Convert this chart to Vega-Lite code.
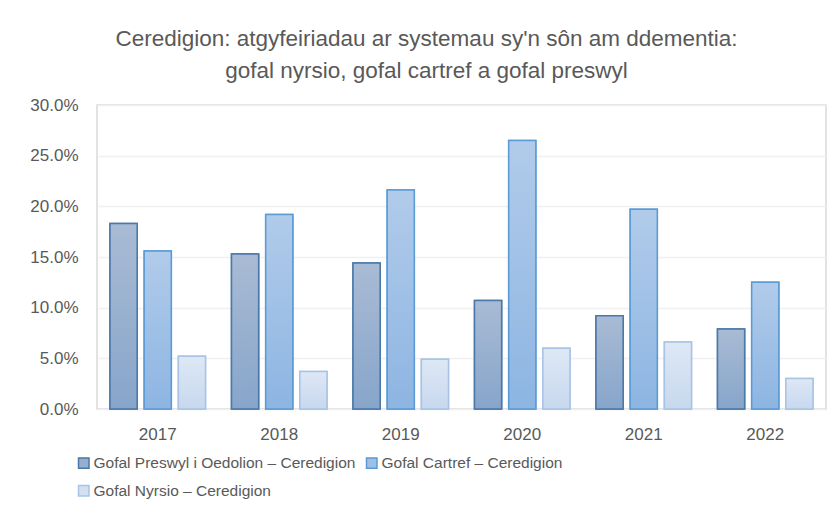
{
  "$schema": "https://vega.github.io/schema/vega-lite/v6.json",
  "autosize": "none",
  "width": 729,
  "height": 304,
  "padding": {"left": 97, "top": 105, "right": 10, "bottom": 99},
  "background": "white",
  "title": {
    "text": ["Ceredigion: atgyfeiriadau ar systemau sy'n sôn am ddementia:", "gofal nyrsio, gofal cartref a gofal preswyl"],
    "font": "Liberation Sans",
    "fontSize": 22.5,
    "fontWeight": "normal",
    "color": "#595959",
    "lineHeight": 32,
    "anchor": "middle",
    "dx": -35,
    "offset": 14
  },
  "data": {
    "values": [
      {"year": "2017", "series": "Gofal Preswyl i Oedolion – Ceredigion", "value": 0.183},
      {"year": "2017", "series": "Gofal Cartref – Ceredigion", "value": 0.156},
      {"year": "2017", "series": "Gofal Nyrsio – Ceredigion", "value": 0.052},
      {"year": "2018", "series": "Gofal Preswyl i Oedolion – Ceredigion", "value": 0.153},
      {"year": "2018", "series": "Gofal Cartref – Ceredigion", "value": 0.192},
      {"year": "2018", "series": "Gofal Nyrsio – Ceredigion", "value": 0.037},
      {"year": "2019", "series": "Gofal Preswyl i Oedolion – Ceredigion", "value": 0.144},
      {"year": "2019", "series": "Gofal Cartref – Ceredigion", "value": 0.216},
      {"year": "2019", "series": "Gofal Nyrsio – Ceredigion", "value": 0.049},
      {"year": "2020", "series": "Gofal Preswyl i Oedolion – Ceredigion", "value": 0.107},
      {"year": "2020", "series": "Gofal Cartref – Ceredigion", "value": 0.265},
      {"year": "2020", "series": "Gofal Nyrsio – Ceredigion", "value": 0.060},
      {"year": "2021", "series": "Gofal Preswyl i Oedolion – Ceredigion", "value": 0.092},
      {"year": "2021", "series": "Gofal Cartref – Ceredigion", "value": 0.197},
      {"year": "2021", "series": "Gofal Nyrsio – Ceredigion", "value": 0.066},
      {"year": "2022", "series": "Gofal Preswyl i Oedolion – Ceredigion", "value": 0.079},
      {"year": "2022", "series": "Gofal Cartref – Ceredigion", "value": 0.125},
      {"year": "2022", "series": "Gofal Nyrsio – Ceredigion", "value": 0.030}
    ]
  },
  "encoding": {
    "x": {
      "field": "year",
      "type": "nominal",
      "scale": {"paddingInner": 0.214, "paddingOuter": 0.107},
      "axis": {
        "title": null,
        "labelAngle": 0,
        "labelFont": "Liberation Sans",
        "labelFontSize": 17,
        "labelColor": "#595959",
        "labelPadding": 17,
        "domain": false,
        "ticks": false
      }
    },
    "xOffset": {
      "field": "series",
      "type": "nominal",
      "scale": {
        "domain": ["Gofal Preswyl i Oedolion – Ceredigion", "Gofal Cartref – Ceredigion", "Gofal Nyrsio – Ceredigion"],
        "paddingInner": 0.206,
        "paddingOuter": 0
      }
    },
    "y": {
      "field": "value",
      "type": "quantitative",
      "scale": {"domain": [0, 0.3], "nice": false},
      "axis": {
        "title": null,
        "format": ".1%",
        "values": [0, 0.05, 0.1, 0.15, 0.2, 0.25, 0.3],
        "labelFont": "Liberation Sans",
        "labelFontSize": 17,
        "labelColor": "#595959",
        "labelPadding": 19,
        "ticks": false,
        "domain": false,
        "gridColor": "#f0f0f0",
        "gridWidth": 1.5
      }
    }
  },
  "layer": [
    {
      "mark": {"type": "bar", "strokeWidth": 1.5},
      "encoding": {
        "fill": {
          "field": "series",
          "type": "nominal",
          "title": null,
          "scale": {
            "domain": ["Gofal Preswyl i Oedolion – Ceredigion", "Gofal Cartref – Ceredigion", "Gofal Nyrsio – Ceredigion"],
            "range": ["#97afcf", "#9fc0e6", "#d2e0f1"]
          },
          "legend": {
            "orient": "none",
            "legendX": -21,
            "legendY": 350,
            "direction": "horizontal",
            "columns": 2,
            "columnPadding": 7,
            "rowPadding": 10,
            "symbolType": "square",
            "symbolSize": 110,
            "symbolStrokeWidth": 1.5,
            "labelFont": "Liberation Sans",
            "labelFontSize": 15.5,
            "labelColor": "#595959",
            "labelOffset": 2,
            "labelLimit": 400
          }
        },
        "stroke": {
          "field": "series",
          "type": "nominal",
          "title": null,
          "scale": {
            "domain": ["Gofal Preswyl i Oedolion – Ceredigion", "Gofal Cartref – Ceredigion", "Gofal Nyrsio – Ceredigion"],
            "range": ["#4a78a8", "#5b9bd5", "#a8c3e6"]
          }
        }
      }
    },
    {
      "transform": [{"filter": "datum.series === 'Gofal Preswyl i Oedolion – Ceredigion'"}],
      "mark": {
        "type": "bar",
        "strokeWidth": 1.5,
        "stroke": "#4a78a8",
        "fill": {"gradient": "linear", "x1": 0, "y1": 0, "x2": 0, "y2": 1, "stops": [{"offset": 0, "color": "#a9bbd4"}, {"offset": 1, "color": "#87a5cb"}]}
      }
    },
    {
      "transform": [{"filter": "datum.series === 'Gofal Cartref – Ceredigion'"}],
      "mark": {
        "type": "bar",
        "strokeWidth": 1.5,
        "stroke": "#5b9bd5",
        "fill": {"gradient": "linear", "x1": 0, "y1": 0, "x2": 0, "y2": 1, "stops": [{"offset": 0, "color": "#b1cbea"}, {"offset": 1, "color": "#8db5e2"}]}
      }
    },
    {
      "transform": [{"filter": "datum.series === 'Gofal Nyrsio – Ceredigion'"}],
      "mark": {
        "type": "bar",
        "strokeWidth": 1.5,
        "stroke": "#a8c3e6",
        "fill": {"gradient": "linear", "x1": 0, "y1": 0, "x2": 0, "y2": 1, "stops": [{"offset": 0, "color": "#dee8f5"}, {"offset": 1, "color": "#c7d8ee"}]}
      }
    }
  ],
  "config": {"view": {"stroke": "#d9d9d9", "strokeWidth": 1.5}}
}
